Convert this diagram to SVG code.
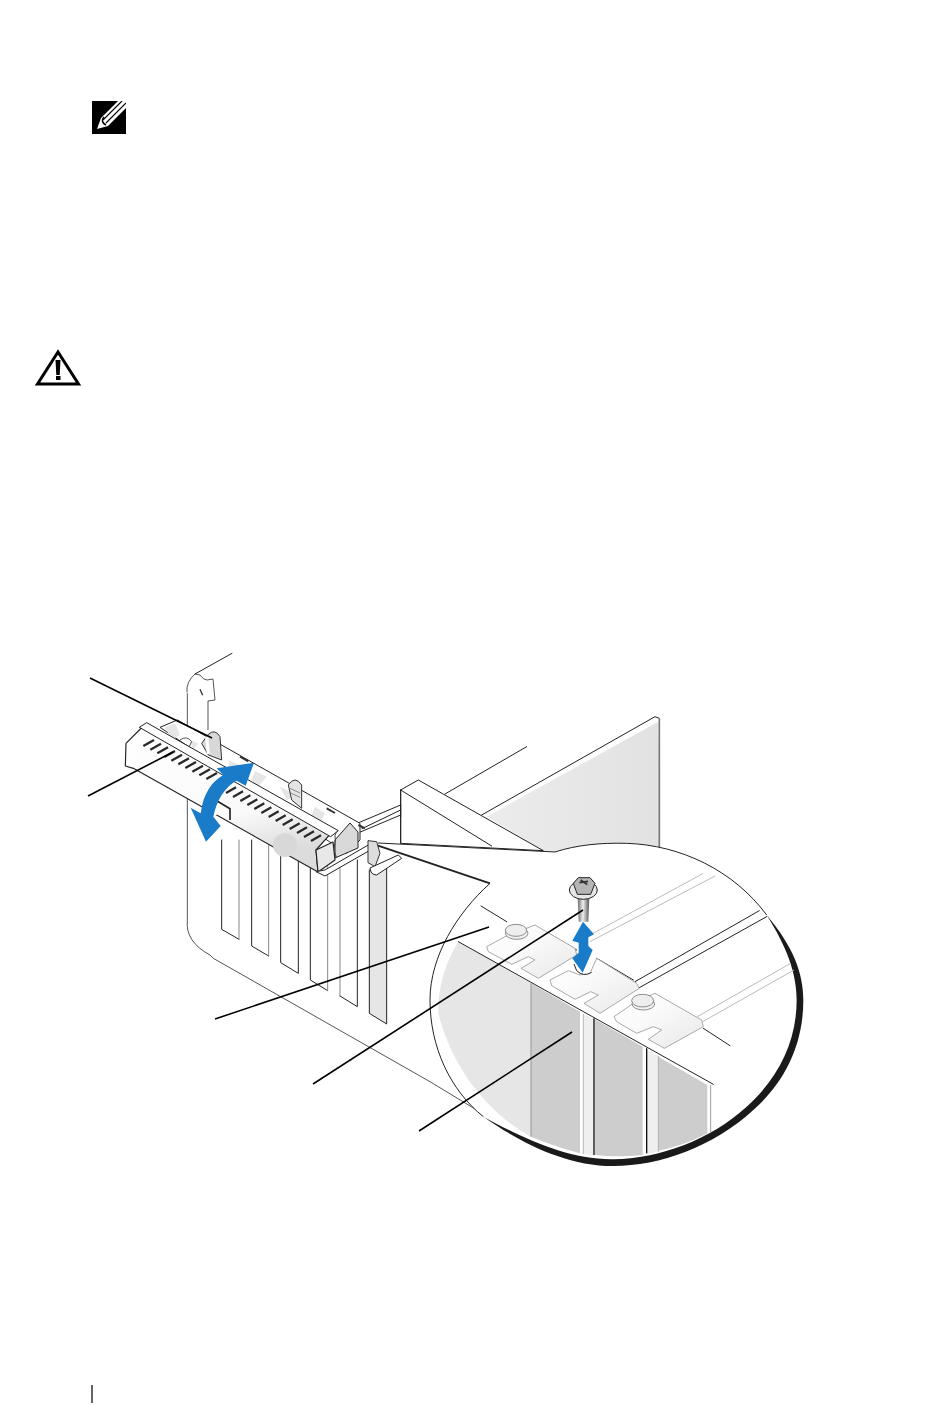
<svg xmlns="http://www.w3.org/2000/svg" width="950" height="1414" viewBox="0 0 950 1414">
<style>
.k{fill:none;stroke:#222;stroke-width:3;stroke-linejoin:round;stroke-linecap:round}
.g{fill:none;stroke:#888;stroke-width:3;stroke-linecap:round}
.w{fill:#fff;stroke:#222;stroke-width:3;stroke-linejoin:round}
.t{fill:url(#tab);stroke:#999;stroke-width:2.500;stroke-linejoin:round}
.p{fill:#cdcdcd}
.q{fill:#e6e6e6}
.s{fill:#efefef}
.b{fill:#1a7bc9}
.lead{fill:none;stroke:#000;stroke-width:1.600;stroke-linecap:butt}
</style>
<defs>
<linearGradient id="tab" x1="0" y1="0" x2="1" y2="1"><stop offset="0" stop-color="#fff"/><stop offset=".4" stop-color="#fafafa"/><stop offset="1" stop-color="#e8e8e8"/></linearGradient>
<linearGradient id="body" x1="0" y1="0" x2=".3" y2="1"><stop offset="0" stop-color="#fff"/><stop offset=".7" stop-color="#fafafa"/><stop offset="1" stop-color="#dcdcdc"/></linearGradient>
<linearGradient id="shaft" x1="0" y1="0" x2="1" y2="0"><stop offset="0" stop-color="#666"/><stop offset=".45" stop-color="#f0f0f0"/><stop offset="1" stop-color="#555"/></linearGradient>
<linearGradient id="panel" x1="0" y1="0" x2="1" y2="0"><stop offset="0" stop-color="#ececec"/><stop offset="1" stop-color="#e2e2e2"/></linearGradient>
<clipPath id="noteclip"><rect x="92" y="101" width="34" height="33"/></clipPath>
</defs>
<rect width="950" height="1414" fill="#fff"/>

<g id="note-icon">
<rect x="92" y="101" width="34" height="33" fill="#000"/>
<g clip-path="url(#noteclip)">
<path d="M97 129L101 118L119 100H128V106L108 126Z" fill="#fff"/>
<path d="M103 120L122 101M106 123L126 103" stroke="#000" stroke-width="1.100" fill="none"/>
<path d="M104 117Q100 122 106 125" stroke="#000" stroke-width="1.600" fill="none"/>
</g>
</g>

<g id="caution-icon">
<path d="M58 352L37.500 384H78.500Z" fill="#fff" stroke="#000" stroke-width="3" stroke-linejoin="miter"/>
<path d="M55.500 360h5l-.8 15h-3.400z" fill="#000"/>
<rect x="56" y="376" width="4.500" height="4" fill="#000"/>
</g>

<g id="footer-rule"><line x1="92" y1="1385" x2="92" y2="1403" stroke="#222" stroke-width="1.400"/></g>

<g id="back-panel" transform="translate(380 700) scale(.33333)">
<path d="M320 350L835 65L840 445L520 456L490 452Z" fill="url(#panel)"/>
<path class="k" d="M305 345L825 50L838 55"/>
<path d="M838 55V445" stroke="#777" stroke-width="5" fill="none"/>
<path class="k" d="M195 282L440 140"/>
<path class="w" d="M62 270L115 240L490 452L62 430Z"/>
<path class="k" d="M62 270L335 438M62 270V430"/>
</g>

<g id="expansion-bracket" transform="translate(170 850) scale(.33333)">
<path d="M52 -474V210Q45 275 120 315L130 325L780 695L920 780" fill="none" stroke="#333" stroke-width="2.500"/>
<path d="M51 -474Q48 -504 75 -528L90 -525Q100 -510 111 -510L129 -513L135 -450L114 -447V-360" fill="#fff" stroke="#333" stroke-width="2.500"/>
<path class="k" d="M75 -528L186 -590"/>
<path d="M90 -482l8 18" fill="none" stroke="#333" stroke-width="4"/>
<path class="k" d="M155 -30V238L207 268"/><path class="g" d="M207 268V-30"/>
<path class="k" d="M245 -30V288L296 318"/><path class="g" d="M296 318V-30"/>
<path class="k" d="M332 -30V338L385 370V-30"/>
<path class="k" d="M421 50V390L473 422"/><path class="g" d="M473 422V50"/>
<path class="g" d="M510 40V438"/><path class="k" d="M510 438L562 470V30"/>
<path d="M598 60V490L650 522V50Z" class="q"/>
<path class="k" d="M598 60V490L650 522V50"/>
</g>

<g id="card-retention-arm" transform="translate(80 640) scale(.33333)">
<path class="k" d="M834 549L962 495M834 579L962 525M846 566L962 510"/>
<path class="k" d="M962 495V530"/>
<path class="w" d="M240 262L292 240L840 550L840 600L800 640Z"/>
<path class="q" d="M255 262L285 250L300 285L275 300Z"/>
<path class="q" d="M330 300L355 310L340 330Z"/>
<path class="q" d="M445 360L480 375L450 395Z"/>
<path class="q" d="M525 392L560 410L535 440L515 420Z"/>
<path class="q" d="M600 440L650 465L620 480Z"/>
<path class="q" d="M705 500L735 520L715 560L690 535Z"/>
<path d="M300 300q20-15 35 5l-10 20" fill="none" stroke="#555" stroke-width="3"/>
<path d="M480 350l25 14M740 505l25 14M835 555l20 10" stroke="#333" stroke-width="6" fill="none"/>
<path d="M365 310L385 283Q405 265 420 290L425 360L385 345Z" fill="#d8d8d8" stroke="#333" stroke-width="3"/>
<path d="M380 290L385 342" stroke="#fff" stroke-width="9" fill="none"/>
<path d="M625 435Q645 405 665 435V505L635 480Z" fill="#e4e4e4" stroke="#333" stroke-width="3"/>
<path d="M630 445l30 14M630 458l30 14" stroke="#777" stroke-width="2.500" fill="none"/>
<path d="M138 310L190 258L760 572L708 630L714 696L160 385L136 378Z" fill="url(#body)" stroke="#222" stroke-width="3.500" stroke-linejoin="round"/>
<ellipse cx="615" cy="615" rx="36" ry="36" fill="#d8d8d8"/>
<path fill="none" stroke="#2a2a2a" stroke-width="7" d="M190 318l32-18M211 329l32-18M232 340l32-18M253 351l32-18M274 362l32-18M295 373l32-18M316 384l32-18M337 395l32-18M358 406l32-18M379 417l32-18M438 459l30-17M459 471l30-17M481 483l30-17M502 495l30-17M523 507l30-17M544 519l30-17M566 531l30-17M587 543l30-17M608 555l30-17M629 567l30-17M651 579l30-17M672 591l30-17M693 603l30-17"/>
<path d="M400 478L452 508V542L415 522L400 528Z" fill="#fff"/>
<path d="M410 482L450 506V540" fill="none" stroke="#222" stroke-width="5"/>
<path d="M765 600L810 549L834 576V624L765 654Z" fill="#d9d9d9" stroke="#222" stroke-width="3" stroke-linejoin="round"/>
<path d="M708 630L759 606L765 660L714 696Z" fill="#e8e8e8" stroke="#222" stroke-width="3.500" stroke-linejoin="round"/>
<path class="w" d="M178 262L200 248L775 572L752 590Z"/>
<path d="M770 575Q762 585 766 600L762 630L770 654" fill="none" stroke="#444" stroke-width="3"/>
<path class="w" d="M708 695L735 708L880 625L870 612L735 690Z"/>
<path d="M864 602L890 605L900 640L885 680L864 668Z" fill="#ddd" stroke="#333" stroke-width="3"/>
<path class="w" d="M870 684L955 645L965 655L890 705Q872 705 870 684Z"/>
<path class="b" d="M522 368L497 437L470 422C435 440 410 480 400 530L422 558L378 605L332 503L362 520C370 460 395 425 430 405L410 385Z"/>
</g>

<g id="magnified-view" transform="translate(420 840) scale(.33333)">
<path id="lens" d="M405 36C470 15 540 8 620 10C780 15 940 90 1040 225C1120 320 1150 400 1150 480C1150 620 1090 730 1000 810C880 920 720 978 580 978C430 978 290 900 190 830C90 750 30 620 30 480C30 350 110 220 210 130L-126 17L405 36Z" fill="#fff" stroke="none"/>
<path d="M405 36C470 15 540 8 620 10C780 15 940 90 1040 225" fill="none" stroke="#222" stroke-width="3"/>
<path d="M210 130C110 220 30 350 30 480C30 620 90 750 190 830" fill="none" stroke="#222" stroke-width="3"/>
<path d="M405 36L-126 9" fill="none" stroke="#222" stroke-width="3"/>
<path d="M-126 17L210 130" fill="none" stroke="#222" stroke-width="6"/>
<path d="M1040 225C1120 320 1150 400 1150 480C1150 620 1090 730 1000 810C880 920 720 978 580 978C430 978 290 900 190 830C300 890 440 960 580 958C720 955 870 900 980 800C1070 720 1130 610 1130 480C1130 400 1100 320 1040 225Z" fill="#1a1a1a"/>
<path class="q" d="M115 305L333 430V890C220 830 100 700 55 520C52 440 80 360 115 305Z"/>
<path class="p" d="M333 430L480 515V940C430 925 380 910 333 890Z"/>
<path class="s" d="M490 522L522 538V945L490 942Z"/>
<path class="p" d="M525 538L668 620V945C620 950 570 950 525 945Z"/>
<path class="s" d="M680 628L715 648V935L680 942Z"/>
<path class="p" d="M715 650L862 735V880C815 905 765 922 715 932Z"/>
<path d="M333 430V890M872 735V880" stroke="#888" stroke-width="2.500" fill="none"/>
<path d="M522 535V945M680 625V940" stroke="#111" stroke-width="4" fill="none"/>
<path d="M490 522V942M715 648V935" stroke="#999" stroke-width="2" fill="none"/>
<path class="k" d="M115 305L880 733"/>
<path class="k" d="M183 198L260 245M385 280L470 330M530 355L640 420M850 565L930 617"/>
<path d="M510 285L850 100M510 305L885 108M832 530L1112 370M848 545L1122 390" stroke="#bbb" stroke-width="3" fill="none"/>
<path class="k" d="M645 425L1018 212M658 443L1040 230"/>
<path class="t" d="M200 320L255 290L345 255L465 325L470 345L355 415L303 385L345 360L325 350L275 373L205 335Z"/>
<ellipse cx="290" cy="280" rx="34" ry="18" fill="#f2f2f2" stroke="#777" stroke-width="2.500"/>
<ellipse cx="288" cy="271" rx="32" ry="18" fill="#eee" stroke="#777" stroke-width="2.500"/>
<path class="t" d="M390 420L445 392L480 405L510 400L530 355L650 430L658 445L540 520L492 490L535 465L512 455L465 478L395 437Z"/>
<path d="M462 372L470 392Q490 412 515 397" fill="#fff" stroke="#222" stroke-width="3"/>
<path class="t" d="M582 530L640 490L705 460L845 540L850 560L733 625L685 598L725 570L700 560L650 580L590 545Z"/>
<ellipse cx="670" cy="492" rx="34" ry="18" fill="#f2f2f2" stroke="#777" stroke-width="2.500"/>
<ellipse cx="668" cy="482" rx="33" ry="19" fill="#eee" stroke="#777" stroke-width="2.500"/>
<g id="screw">
<path d="M473 170H508L505 245H476Z" fill="url(#shaft)"/>
<ellipse cx="490" cy="150" rx="42" ry="28" fill="#e6e6e6" stroke="#222" stroke-width="3"/>
<path d="M460 130L475 113L510 113L525 130L512 163H472Z" fill="#b5b5b5" stroke="#222" stroke-width="3"/>
<path d="M478 128l26-4M482 120l20 14" stroke="#333" stroke-width="5" fill="none"/>
</g>
<path class="b" d="M489 245L522 283L505 292L505 318L518 330L488 398L457 355L476 338L476 308L457 302Z"/>
</g>

<g id="connectors">
<path class="lead" d="M90 678L212 738"/>
<path class="lead" d="M88 796L173 752"/>
<path class="lead" d="M215 1019L489 927"/>
<path class="lead" d="M313 1084L583 910"/>
<path class="lead" d="M419 1131L572 1032"/>
</g>
</svg>
